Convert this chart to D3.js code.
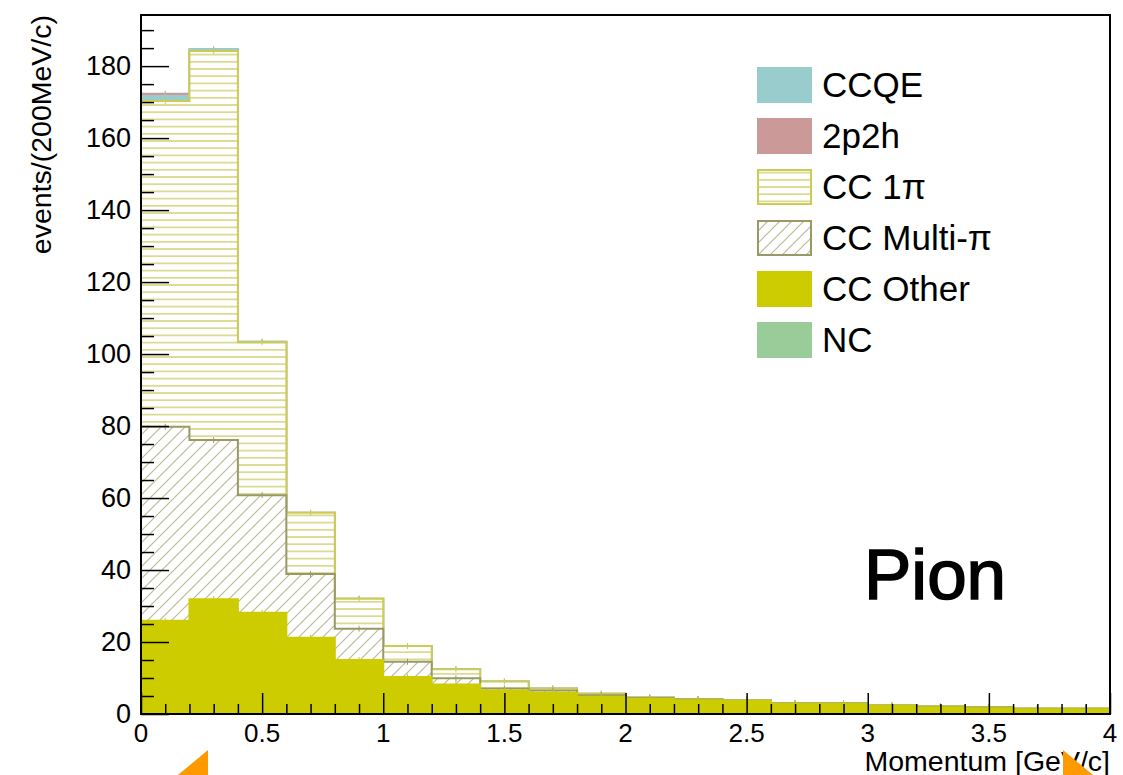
<!DOCTYPE html>
<html>
<head>
    <title>Pion momentum stack</title>
    <script src="https://d3js.org/d3.v7.min.js"></script>
    <style>
        body { margin: 0; background: #fff; }
        svg { font-family: "Liberation Sans", Arial, sans-serif; }
    </style>
</head>
<body>
    <div id="chart"></div>
    <script>
        // Bin edges (GeV/c), 200 MeV/c bins
        const binEdges = [0, 0.2, 0.4, 0.6, 0.8, 1.0, 1.2, 1.4, 1.6, 1.8, 2.0,
                          2.2, 2.4, 2.6, 2.8, 3.0, 3.2, 3.4, 3.6, 3.8, 4.0];

        // Events per bin for each interaction mode
        const nc       = [0, 0, 0, 0, 0, 0, 0, 0, 0, 0, 0, 0, 0, 0, 0, 0, 0, 0, 0, 0];
        const ccOther  = [25.9, 31.9, 28.1, 21.2, 15.0, 10.3, 8.2, 6.5, 5.9, 4.8, 4.2, 3.8, 3.6, 2.8, 2.8, 2.2, 1.9, 1.6, 1.3, 1.3];
        const ccMulti  = [53.9, 44.2, 32.7, 17.7, 8.7, 4.2, 1.7, 0.6, 0.6, 0.4, 0.2, 0.2, 0.1, 0.1, 0.1, 0.1, 0.1, 0.2, 0.1, 0.1];
        const cc1pi    = [90.5, 108.1, 42.5, 17.0, 8.3, 4.4, 2.5, 1.9, 0.6, 0.4, 0.2, 0.1, 0.1, 0.1, 0.1, 0.1, 0.1, 0.1, 0.1, 0.1];
        const ccqe     = [1.4, 0.5, 0.1, 0, 0, 0, 0, 0, 0, 0, 0, 0, 0, 0, 0, 0, 0, 0, 0, 0];
        const twoP2h   = [0.6, 0, 0, 0, 0, 0, 0, 0, 0, 0, 0, 0, 0, 0, 0, 0, 0, 0, 0, 0];

        const legendLabels = ["CCQE", "2p2h", "CC 1\u03C0", "CC Multi-\u03C0", "CC Other", "NC"];
        const xTickLabels = ["0", "0.5", "1", "1.5", "2", "2.5", "3", "3.5", "4"];
        const yTickLabels = ["0", "20", "40", "60", "80", "100", "120", "140", "160", "180"];

        // Layer styles, bottom of the stack first
        const layers = [
            {key: "nc",      values: nc,      fill: "#99cc99", stroke: "#99cc99"},
            {key: "ccOther", values: ccOther, fill: "#cccc00", stroke: "#cccc00"},
            {key: "ccMulti", values: ccMulti, fill: "url(#diag)", stroke: "#999966"},
            {key: "cc1pi",   values: cc1pi,   fill: "url(#horiz)", stroke: "#cccc55"},
            {key: "ccqe",    values: ccqe,    fill: "#99cccc", stroke: "#99cccc"},
            {key: "twoP2h",  values: twoP2h,  fill: "#cc9999", stroke: "#cc9999"}
        ];

        const W = 1123, H = 775;
        const margin = {top: 15, right: 13, bottom: 61, left: 141};
        const width = W - margin.left - margin.right;
        const height = H - margin.top - margin.bottom;

        const svg = d3.select("#chart")
            .append("svg")
            .attr("width", W)
            .attr("height", H);

        // Fill patterns (ROOT style hatches)
        const defs = svg.append("defs");
        const horiz = defs.append("pattern")
            .attr("id", "horiz")
            .attr("patternUnits", "userSpaceOnUse")
            .attr("width", 10).attr("height", 7.2);
        horiz.append("rect").attr("width", 10).attr("height", 7.2).attr("fill", "#fff");
        horiz.append("line").attr("x1", 0).attr("x2", 10).attr("y1", 3.6).attr("y2", 3.6)
            .attr("stroke", "#cccc66").attr("stroke-width", 1.3);

        const diag = defs.append("pattern")
            .attr("id", "diag")
            .attr("patternUnits", "userSpaceOnUse")
            .attr("width", 12).attr("height", 12);
        diag.append("rect").attr("width", 12).attr("height", 12).attr("fill", "#fff");
        diag.append("path").attr("d", "M0,12 L12,0 M-3,3 L3,-3 M9,15 L15,9")
            .attr("stroke", "#bbbb99").attr("stroke-width", 1.2);

        const g = svg.append("g")
            .attr("transform", `translate(${margin.left}, ${margin.top})`);

        const x = d3.scaleLinear().domain([0, 4]).range([0, width]);
        const y = d3.scaleLinear().domain([0, 194.2]).range([height, 0]);

        // Stack the layers
        const nBins = binEdges.length - 1;
        const rows = d3.range(nBins).map(i => {
            const r = {};
            layers.forEach(l => r[l.key] = l.values[i]);
            return r;
        });
        const stacked = d3.stack().keys(layers.map(l => l.key))(rows);

        // Step outline for a cumulative histogram
        function stepPoints(tops) {
            const pts = [[binEdges[0], 0]];
            tops.forEach((v, i) => {
                pts.push([binEdges[i], v]);
                pts.push([binEdges[i + 1], v]);
            });
            pts.push([binEdges[nBins], 0]);
            return pts;
        }
        const line = d3.line().x(d => x(d[0])).y(d => y(d[1]));

        // Draw the cumulative histograms from the top of the stack down
        stacked.slice().reverse().forEach(s => {
            const layer = layers[s.index];
            const tops = s.map(d => d[1]);
            if (d3.max(layer.values) === 0) return;
            g.append("path")
                .attr("d", line(stepPoints(tops)) + "Z")
                .attr("fill", layer.fill)
                .attr("stroke", layer.stroke)
                .attr("stroke-width", 2);
            // tiny error bars at bin centres
            g.selectAll(null)
                .data(tops)
                .enter()
                .append("line")
                .attr("x1", (d, i) => x((binEdges[i] + binEdges[i + 1]) / 2))
                .attr("x2", (d, i) => x((binEdges[i] + binEdges[i + 1]) / 2))
                .attr("y1", d => y(d) - 3)
                .attr("y2", d => y(d) + 3)
                .attr("stroke", layer.stroke)
                .attr("stroke-width", 1);
        });

        // Axes
        const xAxis = d3.axisBottom(x)
            .tickValues(d3.range(0, 4.01, 0.1))
            .tickSize(0)
            .tickFormat("");
        g.append("g").attr("transform", `translate(0, ${height})`).call(xAxis)
            .call(a => a.select(".domain").remove())
            .selectAll(".tick line")
            .attr("y2", (d, i) => i % 5 === 0 ? -21 : -10)
            .attr("stroke", "#000").attr("stroke-width", 1.5);

        const yAxis = d3.axisLeft(y)
            .tickValues(d3.range(0, 191, 5))
            .tickSize(0)
            .tickFormat("");
        g.append("g").call(yAxis)
            .call(a => a.select(".domain").remove())
            .selectAll(".tick line")
            .attr("x2", (d, i) => i % 4 === 0 ? 28 : 13)
            .attr("stroke", "#000").attr("stroke-width", 1.5);

        // Tick labels
        g.selectAll(".xlab")
            .data(xTickLabels)
            .enter()
            .append("text")
            .attr("x", d => x(+d))
            .attr("y", height + 28)
            .attr("text-anchor", "middle")
            .attr("font-size", 26)
            .text(d => d);

        g.selectAll(".ylab")
            .data(yTickLabels)
            .enter()
            .append("text")
            .attr("x", -10)
            .attr("y", d => y(+d) + 9)
            .attr("text-anchor", "end")
            .attr("font-size", 27)
            .text(d => d);

        // Frame
        g.append("rect")
            .attr("width", width).attr("height", height)
            .attr("fill", "none").attr("stroke", "#000").attr("stroke-width", 2);

        // Axis titles
        svg.append("text")
            .attr("transform", "translate(51, 15) rotate(-90)")
            .attr("text-anchor", "end")
            .attr("font-size", 28.5)
            .text("events/(200MeV/c)");

        svg.append("text")
            .attr("x", margin.left + width)
            .attr("y", 771)
            .attr("text-anchor", "end")
            .attr("font-size", 28.5)
            .text("Momentum [GeV/c]");

        // Legend
        const legendFills = ["#99cccc", "#cc9999", "url(#horiz)", "url(#diag)", "#cccc00", "#99cc99"];
        const legendStrokes = ["#99cccc", "#cc9999", "#cccc55", "#999966", "#cccc00", "#99cc99"];
        const legend = svg.append("g").attr("transform", "translate(757, 67)");
        const item = legend.selectAll("g")
            .data(legendLabels)
            .enter()
            .append("g")
            .attr("transform", (d, i) => `translate(0, ${i * 51})`);
        item.append("rect")
            .attr("x", 1).attr("y", 1)
            .attr("width", 53).attr("height", 34)
            .attr("fill", (d, i) => legendFills[i])
            .attr("stroke", (d, i) => legendStrokes[i])
            .attr("stroke-width", 2);
        item.append("text")
            .attr("x", 65)
            .attr("y", 30)
            .attr("font-size", 35)
            .text(d => d);

        // Big label
        svg.append("text")
            .attr("x", 864)
            .attr("y", 599)
            .attr("font-size", 71)
            .attr("stroke", "#000")
            .attr("stroke-width", 1.6)
            .text("Pion");

        // Orange corner markers seen in the picture
        svg.append("path").attr("d", "M208,750 L208,775 L178,775 Z").attr("fill", "#ff9900");
        svg.append("path").attr("d", "M1063,750 L1093,775 L1063,775 Z").attr("fill", "#ff9900");
    </script>
</body>
</html>
